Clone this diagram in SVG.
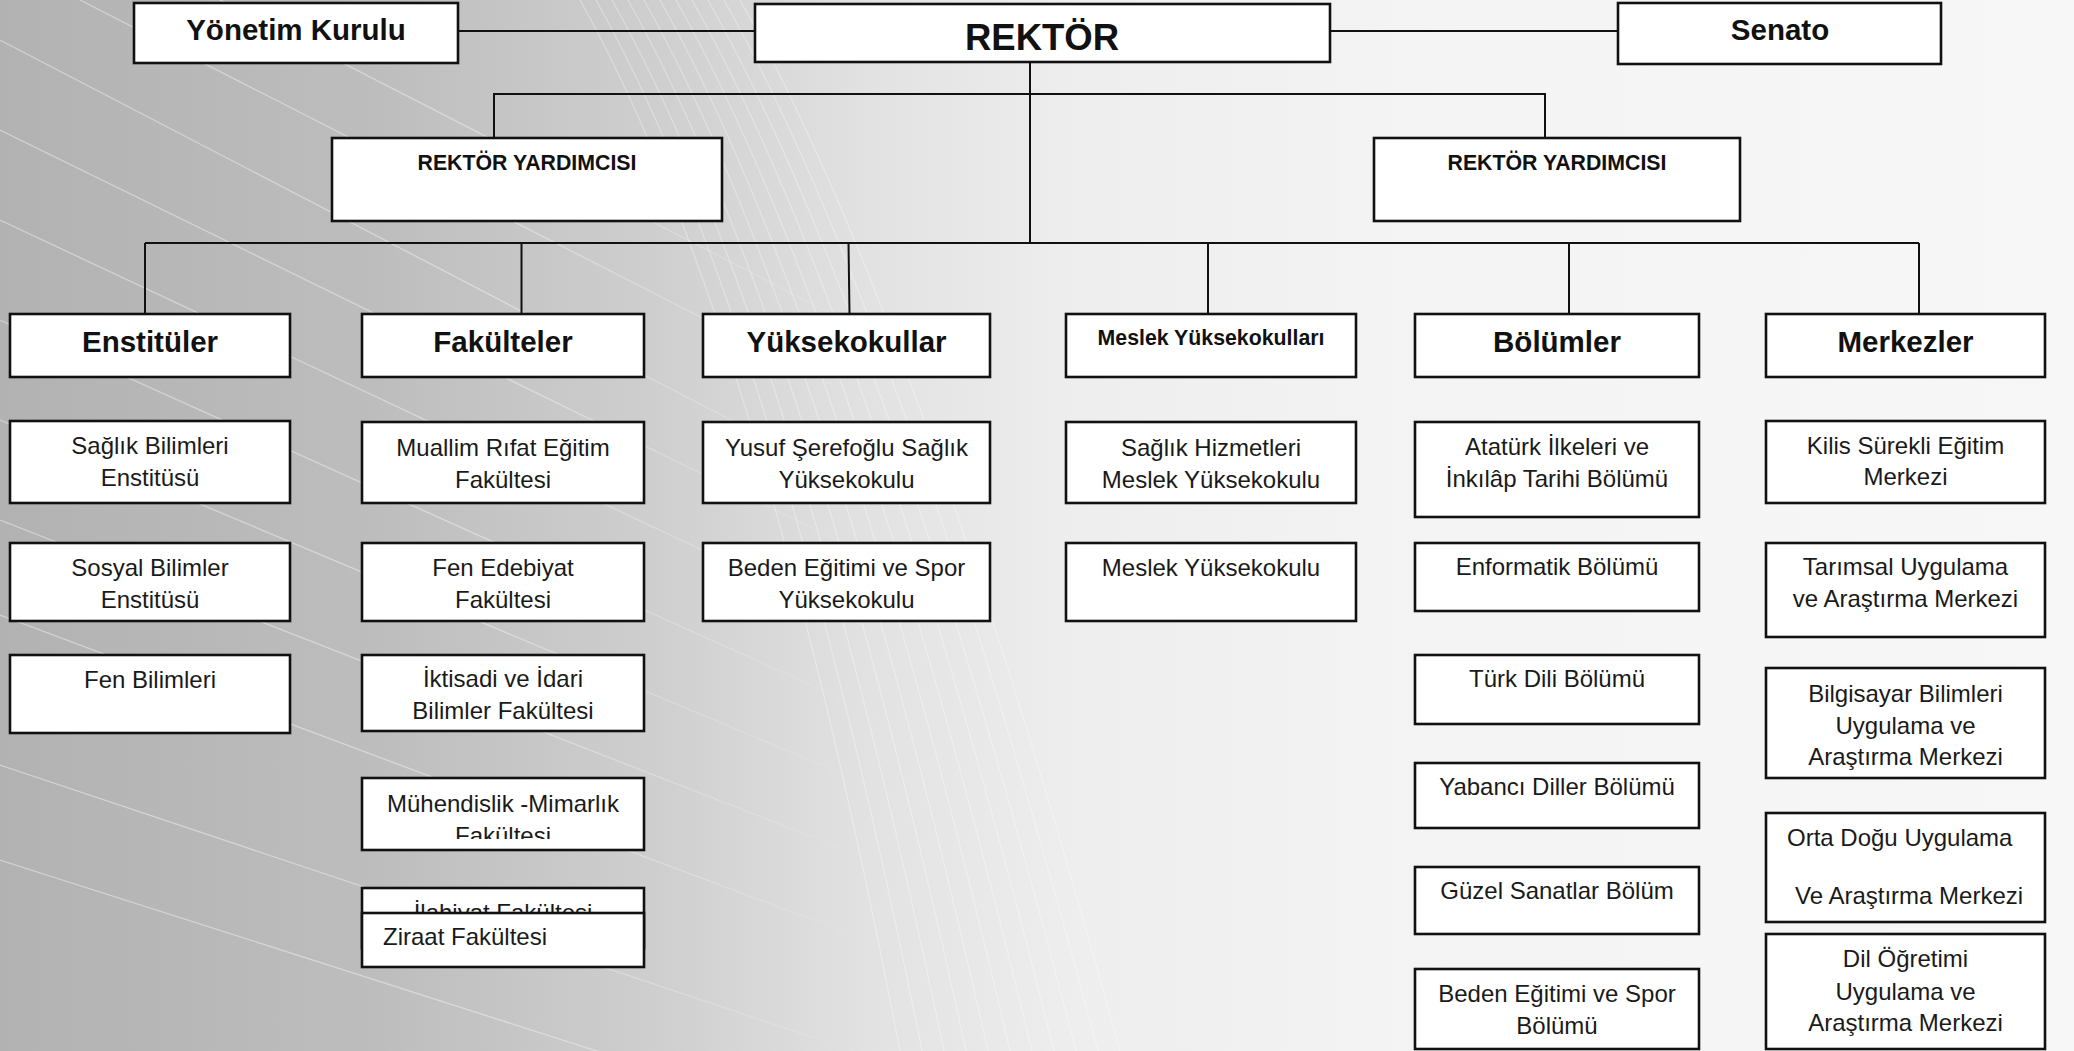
<svg xmlns="http://www.w3.org/2000/svg" width="2074" height="1051" viewBox="0 0 2074 1051">
<defs>
<linearGradient id="bg" x1="0" y1="0" x2="1" y2="0">
<stop offset="0" stop-color="#b2b2b2"/>
<stop offset="0.18" stop-color="#bdbdbd"/>
<stop offset="0.32" stop-color="#cfcfcf"/>
<stop offset="0.42" stop-color="#e2e2e2"/>
<stop offset="0.52" stop-color="#eeeeee"/>
<stop offset="0.7" stop-color="#f4f4f4"/>
<stop offset="1" stop-color="#f7f7f7"/>
</linearGradient>
<linearGradient id="fade" x1="0" y1="0" x2="1" y2="0">
<stop offset="0" stop-color="#fff"/>
<stop offset="0.25" stop-color="#fff"/>
<stop offset="0.45" stop-color="#000"/>
<stop offset="1" stop-color="#000"/>
</linearGradient>
<mask id="leftMask"><rect x="0" y="0" width="2074" height="1051" fill="url(#fade)"/></mask>
<clipPath id="clipMuh"><rect x="362" y="778" width="282" height="61"/></clipPath>
<style>
.box{fill:#fff;stroke:#111;stroke-width:2.6}
.con{stroke:#111;stroke-width:2;fill:none}
.t{font-family:"Liberation Sans",Arial,sans-serif;font-size:24px;fill:#1a1a1a;text-anchor:middle}
.h{font-family:"Liberation Sans",Arial,sans-serif;font-size:29.5px;font-weight:bold;fill:#111;text-anchor:middle}
.s{font-family:"Liberation Sans",Arial,sans-serif;font-size:21.3px;font-weight:bold;fill:#111;text-anchor:middle}
.bgl{stroke:#fff;stroke-width:1.3;fill:none;opacity:0.4}
.fan{stroke:#fff;stroke-width:1.1;fill:none;opacity:0.35}
</style>
</defs>

<g id="background">
<rect x="0" y="0" width="2074" height="1051" fill="url(#bg)"/>
<g mask="url(#leftMask)">
<path class="bgl" d="M0 40 L1000 560"/>
<path class="bgl" d="M0 130 L1000 620"/>
<path class="bgl" d="M0 220 L1000 690"/>
<path class="bgl" d="M0 320 L1000 770"/>
<path class="bgl" d="M0 420 L1000 840"/>
<path class="bgl" d="M0 520 L1000 910"/>
<path class="bgl" d="M0 615 L1000 990"/>
<path class="bgl" d="M0 765 L1000 1100"/>
<path class="bgl" d="M0 860 L1000 1180"/>
<path class="bgl" d="M80 0 L1000 470"/>
<path class="bgl" d="M220 0 L1000 400"/>
</g>
<g>
<path class="fan" d="M580 0 Q760 320 900 1051"/>
<path class="fan" d="M596 0 Q776 320 922 1051"/>
<path class="fan" d="M612 0 Q792 320 944 1051"/>
<path class="fan" d="M628 0 Q808 320 966 1051"/>
<path class="fan" d="M644 0 Q824 320 988 1051"/>
<path class="fan" d="M660 0 Q840 320 1010 1051"/>
<path class="fan" d="M676 0 Q856 320 1032 1051"/>
<path class="fan" d="M692 0 Q872 320 1054 1051"/>
<path class="fan" d="M708 0 Q888 320 1076 1051"/>
<path class="fan" d="M724 0 Q904 320 1098 1051"/>
<path class="fan" d="M740 0 Q920 320 1120 1051"/>
</g>
</g>

<g id="connectors">
<line class="con" x1="458" y1="31" x2="755" y2="31"/>
<line class="con" x1="1330" y1="31" x2="1618" y2="31"/>
<line class="con" x1="1030" y1="62" x2="1030" y2="243"/>
<polyline class="con" points="494,138 494,94 1545,94 1545,138"/>
<line class="con" x1="145" y1="243" x2="1919" y2="243"/>
<line class="con" x1="145" y1="243" x2="145" y2="314"/>
<line class="con" x1="521.5" y1="243" x2="521.5" y2="314"/>
<line class="con" x1="848.5" y1="243" x2="849.5" y2="314"/>
<line class="con" x1="1208" y1="243" x2="1208" y2="314"/>
<line class="con" x1="1569" y1="243" x2="1569" y2="314"/>
<line class="con" x1="1919" y1="243" x2="1919" y2="314"/>
</g>

<g id="yonetim-kurulu"><rect class="box" x="134" y="3" width="324" height="60"/><text class="h" x="296" y="40">Yönetim Kurulu</text></g>
<g id="rektor"><rect class="box" x="755" y="4" width="575" height="58"/><text class="h" x="1042" y="50" style="font-size:36.5px">REKTÖR</text></g>
<g id="senato"><rect class="box" x="1618" y="3" width="323" height="61"/><text class="h" x="1780" y="40">Senato</text></g>

<g id="rektor-yardimcisi-1"><rect class="box" x="332" y="138" width="390" height="83"/><text class="s" x="527" y="170">REKTÖR YARDIMCISI</text></g>
<g id="rektor-yardimcisi-2"><rect class="box" x="1374" y="138" width="366" height="83"/><text class="s" x="1557" y="170">REKTÖR YARDIMCISI</text></g>

<g id="enstituler"><rect class="box" x="10" y="314" width="280" height="63"/><text class="h" x="150" y="352">Enstitüler</text></g>
<g id="fakulteler"><rect class="box" x="362" y="314" width="282" height="63"/><text class="h" x="503" y="352">Fakülteler</text></g>
<g id="yuksekokullar"><rect class="box" x="703" y="314" width="287" height="63"/><text class="h" x="846.5" y="352">Yüksekokullar</text></g>
<g id="meslek-yuksekokullari"><rect class="box" x="1066" y="314" width="290" height="63"/><text class="s" x="1211" y="345">Meslek Yüksekokulları</text></g>
<g id="bolumler"><rect class="box" x="1415" y="314" width="284" height="63"/><text class="h" x="1557" y="352">Bölümler</text></g>
<g id="merkezler"><rect class="box" x="1766" y="314" width="279" height="63"/><text class="h" x="1905.5" y="352">Merkezler</text></g>

<g id="saglik-bilimleri"><rect class="box" x="10" y="421" width="280" height="82"/><text class="t" x="150" y="453.5">Sağlık Bilimleri</text><text class="t" x="150" y="485.5">Enstitüsü</text></g>
<g id="sosyal-bilimler"><rect class="box" x="10" y="543" width="280" height="78"/><text class="t" x="150" y="576">Sosyal Bilimler</text><text class="t" x="150" y="608">Enstitüsü</text></g>
<g id="fen-bilimleri"><rect class="box" x="10" y="655" width="280" height="78"/><text class="t" x="150" y="688">Fen Bilimleri</text></g>

<g id="muallim-rifat"><rect class="box" x="362" y="422" width="282" height="81"/><text class="t" x="503" y="456">Muallim Rıfat Eğitim</text><text class="t" x="503" y="488">Fakültesi</text></g>
<g id="fen-edebiyat"><rect class="box" x="362" y="543" width="282" height="78"/><text class="t" x="503" y="576">Fen Edebiyat</text><text class="t" x="503" y="608">Fakültesi</text></g>
<g id="iktisadi"><rect class="box" x="362" y="655" width="282" height="76"/><text class="t" x="503" y="687">İktisadi ve İdari</text><text class="t" x="503" y="719">Bilimler Fakültesi</text></g>
<g id="muhendislik"><rect class="box" x="362" y="778" width="282" height="72"/><g clip-path="url(#clipMuh)"><text class="t" x="503" y="812">Mühendislik -Mimarlık</text><text class="t" x="503" y="844">Fakültesi</text></g></g>
<g id="ilahiyat"><rect class="box" x="362" y="888" width="282" height="60"/><text class="t" x="503" y="921">İlahiyat Fakültesi</text></g>
<g id="ziraat"><rect class="box" x="362" y="913" width="282" height="54"/><text class="t" x="383" y="945" style="text-anchor:start">Ziraat Fakültesi</text></g>

<g id="yusuf-serefoglu"><rect class="box" x="703" y="422" width="287" height="81"/><text class="t" x="846.5" y="456">Yusuf Şerefoğlu Sağlık</text><text class="t" x="846.5" y="488">Yüksekokulu</text></g>
<g id="beden-egitimi-yo"><rect class="box" x="703" y="543" width="287" height="78"/><text class="t" x="846.5" y="576">Beden Eğitimi ve Spor</text><text class="t" x="846.5" y="608">Yüksekokulu</text></g>

<g id="saglik-hizmetleri"><rect class="box" x="1066" y="422" width="290" height="81"/><text class="t" x="1211" y="456">Sağlık Hizmetleri</text><text class="t" x="1211" y="488">Meslek Yüksekokulu</text></g>
<g id="meslek-yuksekokulu"><rect class="box" x="1066" y="543" width="290" height="78"/><text class="t" x="1211" y="576">Meslek Yüksekokulu</text></g>

<g id="ataturk-ilkeleri"><rect class="box" x="1415" y="422" width="284" height="95"/><text class="t" x="1557" y="455">Atatürk İlkeleri ve</text><text class="t" x="1557" y="487">İnkılâp Tarihi Bölümü</text></g>
<g id="enformatik"><rect class="box" x="1415" y="543" width="284" height="68"/><text class="t" x="1557" y="575">Enformatik Bölümü</text></g>
<g id="turk-dili"><rect class="box" x="1415" y="655" width="284" height="69"/><text class="t" x="1557" y="687">Türk Dili Bölümü</text></g>
<g id="yabanci-diller"><rect class="box" x="1415" y="763" width="284" height="65"/><text class="t" x="1557" y="795">Yabancı Diller Bölümü</text></g>
<g id="guzel-sanatlar"><rect class="box" x="1415" y="867" width="284" height="67"/><text class="t" x="1557" y="899">Güzel Sanatlar Bölüm</text></g>
<g id="beden-egitimi-bolumu"><rect class="box" x="1415" y="969" width="284" height="80"/><text class="t" x="1557" y="1002">Beden Eğitimi ve Spor</text><text class="t" x="1557" y="1033.5">Bölümü</text></g>

<g id="kilis-surekli"><rect class="box" x="1766" y="421" width="279" height="82"/><text class="t" x="1905.5" y="453.5">Kilis Sürekli Eğitim</text><text class="t" x="1905.5" y="485">Merkezi</text></g>
<g id="tarimsal"><rect class="box" x="1766" y="543" width="279" height="94"/><text class="t" x="1905.5" y="575">Tarımsal Uygulama</text><text class="t" x="1905.5" y="607">ve Araştırma Merkezi</text></g>
<g id="bilgisayar"><rect class="box" x="1766" y="668" width="279" height="110"/><text class="t" x="1905.5" y="702">Bilgisayar Bilimleri</text><text class="t" x="1905.5" y="733.5">Uygulama ve</text><text class="t" x="1905.5" y="764.5">Araştırma Merkezi</text></g>
<g id="orta-dogu"><rect class="box" x="1766" y="813" width="279" height="109"/><text class="t" x="1787" y="846" style="text-anchor:start">Orta Doğu Uygulama</text><text class="t" x="1795" y="903.5" style="text-anchor:start">Ve Araştırma Merkezi</text></g>
<g id="dil-ogretimi"><rect class="box" x="1766" y="934" width="279" height="115"/><text class="t" x="1905.5" y="967">Dil Öğretimi</text><text class="t" x="1905.5" y="999.5">Uygulama ve</text><text class="t" x="1905.5" y="1030.5">Araştırma Merkezi</text></g>
</svg>
